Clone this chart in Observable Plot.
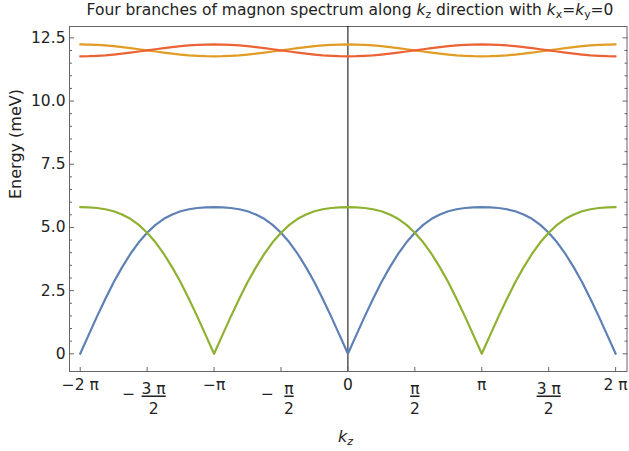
<!DOCTYPE html>
<html>
<head>
<meta charset="utf-8">
<script src="https://cdn.jsdelivr.net/npm/d3@7"></script>
<script src="https://cdn.jsdelivr.net/npm/@observablehq/plot@0.6"></script>
<style>
  html, body { margin: 0; padding: 0; background: #fff; }
  #title { width: 629px; height: 22px; line-height: 20px; box-sizing: border-box; padding-left: 71px;
           text-align: center; font-family: "DejaVu Sans", sans-serif; font-size: 15.5px; color: #222; white-space: nowrap; }
  #title sub { font-size: 0.7em; vertical-align: -0.25em; line-height: 0; }
  .num text { text-decoration: underline; }
</style>
</head>
<body>
<div id="title">Four branches of magnon spectrum along <i>k</i><sub>z</sub> direction with <i>k</i><sub>x</sub>=<i>k</i><sub>y</sub>=0</div>
<div id="chart"></div>
<script>
// k_z sampled in units of π, from −2π to 2π every π/16
const kzOverPi = d3.range(65).map(i => -2 + i / 16);

const seriesNames = ["branch 1", "branch 2", "branch 3", "branch 4"];
const seriesColors = ["#5E81B5", "#E19C24", "#8FB131", "#EB6235"];

const branch1 = [
  0, 0.74, 1.47, 2.17, 2.83, 3.42, 3.95, 4.41, 4.79, 5.10, 5.34, 5.51, 5.64, 5.72, 5.77, 5.79, 5.80,
  5.79, 5.77, 5.72, 5.64, 5.51, 5.34, 5.10, 4.79, 4.41, 3.95, 3.42, 2.83, 2.17, 1.47, 0.74, 0,
  0.74, 1.47, 2.17, 2.83, 3.42, 3.95, 4.41, 4.79, 5.10, 5.34, 5.51, 5.64, 5.72, 5.77, 5.79, 5.80,
  5.79, 5.77, 5.72, 5.64, 5.51, 5.34, 5.10, 4.79, 4.41, 3.95, 3.42, 2.83, 2.17, 1.47, 0.74, 0
];
const branch2 = [
  12.24, 12.235, 12.22, 12.20, 12.17, 12.135, 12.095, 12.05, 12.005, 11.96, 11.915, 11.875, 11.84, 11.81, 11.79, 11.775, 11.77,
  11.775, 11.79, 11.81, 11.84, 11.875, 11.915, 11.96, 12.005, 12.05, 12.095, 12.135, 12.17, 12.20, 12.22, 12.235, 12.24,
  12.235, 12.22, 12.20, 12.17, 12.135, 12.095, 12.05, 12.005, 11.96, 11.915, 11.875, 11.84, 11.81, 11.79, 11.775, 11.77,
  11.775, 11.79, 11.81, 11.84, 11.875, 11.915, 11.96, 12.005, 12.05, 12.095, 12.135, 12.17, 12.20, 12.22, 12.235, 12.24
];
const branch3 = [
  5.80, 5.79, 5.77, 5.72, 5.64, 5.51, 5.34, 5.10, 4.79, 4.41, 3.95, 3.42, 2.83, 2.17, 1.47, 0.74, 0,
  0.74, 1.47, 2.17, 2.83, 3.42, 3.95, 4.41, 4.79, 5.10, 5.34, 5.51, 5.64, 5.72, 5.77, 5.79, 5.80,
  5.79, 5.77, 5.72, 5.64, 5.51, 5.34, 5.10, 4.79, 4.41, 3.95, 3.42, 2.83, 2.17, 1.47, 0.74, 0,
  0.74, 1.47, 2.17, 2.83, 3.42, 3.95, 4.41, 4.79, 5.10, 5.34, 5.51, 5.64, 5.72, 5.77, 5.79, 5.80
];
const branch4 = [
  11.77, 11.775, 11.79, 11.81, 11.84, 11.875, 11.915, 11.96, 12.005, 12.05, 12.095, 12.135, 12.17, 12.20, 12.22, 12.235, 12.24,
  12.235, 12.22, 12.20, 12.17, 12.135, 12.095, 12.05, 12.005, 11.96, 11.915, 11.875, 11.84, 11.81, 11.79, 11.775, 11.77,
  11.775, 11.79, 11.81, 11.84, 11.875, 11.915, 11.96, 12.005, 12.05, 12.095, 12.135, 12.17, 12.20, 12.22, 12.235, 12.24,
  12.235, 12.22, 12.20, 12.17, 12.135, 12.095, 12.05, 12.005, 11.96, 11.915, 11.875, 11.84, 11.81, 11.79, 11.775, 11.77
];

// tick positions (units of π) and their labels
const xTicks = [-2, -1.5, -1, -0.5, 0, 0.5, 1, 1.5, 2];
const xTickSign = ["", "\u2212", "", "\u2212", "", "", "", "", ""];
const xTickNumerator = ["\u22122 \u03c0", "3 \u03c0", "\u2212\u03c0", "\u03c0", "0", "\u03c0", "\u03c0", "3 \u03c0", "2 \u03c0"];
const xTickDenominator = ["", "2", "", "2", "", "2", "", "2", ""];
const yTicks = [0, 2.5, 5, 7.5, 10, 12.5];
const yTickLabels = ["0", "2.5", "5.0", "7.5", "10.0", "12.5"];
const yMinorTicks = [0.5, 1, 1.5, 2, 3, 3.5, 4, 4.5, 5.5, 6, 6.5, 7, 8, 8.5, 9, 9.5, 10.5, 11, 11.5, 12];
const yLabel = "Energy (meV)";

const allBranches = [branch1, branch2, branch3, branch4];
const rows = [];
allBranches.forEach((vals, s) => vals.forEach((e, i) => rows.push({kz: kzOverPi[i], E: e, series: seriesNames[s]})));

const FONT = "DejaVu Sans, sans-serif";
const FS = 15.5;
const frameColor = "#666";
const textColor = "#222";

const marks = [
  Plot.frame({stroke: frameColor}),
  Plot.ruleX([0], {stroke: "black", strokeWidth: 1}),
  Plot.axisY({ticks: yTicks, tickSize: -5, tickPadding: 9, tickFormat: (d, i) => yTickLabels[i], fontSize: FS, stroke: frameColor, fill: textColor, label: null}),
  Plot.axisY({ticks: yMinorTicks, tickSize: -3, tickFormat: () => "", stroke: frameColor, label: null}),
  Plot.axisY({anchor: "right", ticks: yTicks, tickSize: -5, tickFormat: () => "", stroke: frameColor, label: null}),
  Plot.axisY({anchor: "right", ticks: yMinorTicks, tickSize: -3, tickFormat: () => "", stroke: frameColor, label: null}),
  Plot.axisX({ticks: xTicks, tickSize: -4, tickFormat: () => "", stroke: frameColor, label: null}),
  Plot.line(rows, {x: "kz", y: "E", z: "series", stroke: "series", strokeWidth: 2.2, curve: "linear"}),
  Plot.text([yLabel], {text: d => d, frameAnchor: "left", rotate: -90, dx: -54, fontSize: 16, fill: textColor}),
  Plot.text(["k"], {text: d => d, frameAnchor: "bottom", textAnchor: "end", lineAnchor: "bottom", dx: -1, dy: 70, fontSize: 16, fontStyle: "italic", fill: textColor}),
  Plot.text(["z"], {text: d => d, frameAnchor: "bottom", textAnchor: "start", lineAnchor: "bottom", dx: -1, dy: 73, fontSize: 11, fontStyle: "italic", fill: textColor})
];

// x tick labels: whole multiples single line, fractions stacked
xTicks.forEach((t, i) => {
  if (!xTickDenominator[i]) {
    marks.push(Plot.text([t], {x: d => d, text: () => xTickNumerator[i], frameAnchor: "bottom", lineAnchor: "middle", dy: 14, fontSize: FS, fill: textColor}));
  } else {
    const neg = xTickSign[i] !== "";
    const wide = xTickNumerator[i].length > 1;
    const shift = neg ? (wide ? 6.5 : 8) : 0;
    marks.push(Plot.text([t], {x: d => d, text: () => xTickNumerator[i], frameAnchor: "bottom", lineAnchor: "middle", dx: shift, dy: 18, fontSize: FS, fill: textColor, className: "num"}));
    marks.push(Plot.text([t], {x: d => d, text: () => xTickDenominator[i], frameAnchor: "bottom", lineAnchor: "middle", dx: shift, dy: 38, fontSize: FS, fill: textColor}));
    if (neg) {
      marks.push(Plot.text([t], {x: d => d, text: () => xTickSign[i], frameAnchor: "bottom", lineAnchor: "middle", dx: shift - (wide ? 25 : 21.5), dy: 23, fontSize: FS, fill: textColor}));
    }
  }
});

const chart = Plot.plot({
  width: 629,
  height: 429,
  marginLeft: 69,
  marginRight: 2.5,
  marginTop: 4,
  marginBottom: 80,
  style: {fontFamily: FONT, background: "#fff", overflow: "visible"},
  x: {domain: [-2.08, 2.085], axis: null},
  y: {domain: [-0.70, 12.95], axis: null},
  color: {domain: seriesNames, range: seriesColors},
  marks
});
document.getElementById("chart").appendChild(chart);
</script>
</body>
</html>
